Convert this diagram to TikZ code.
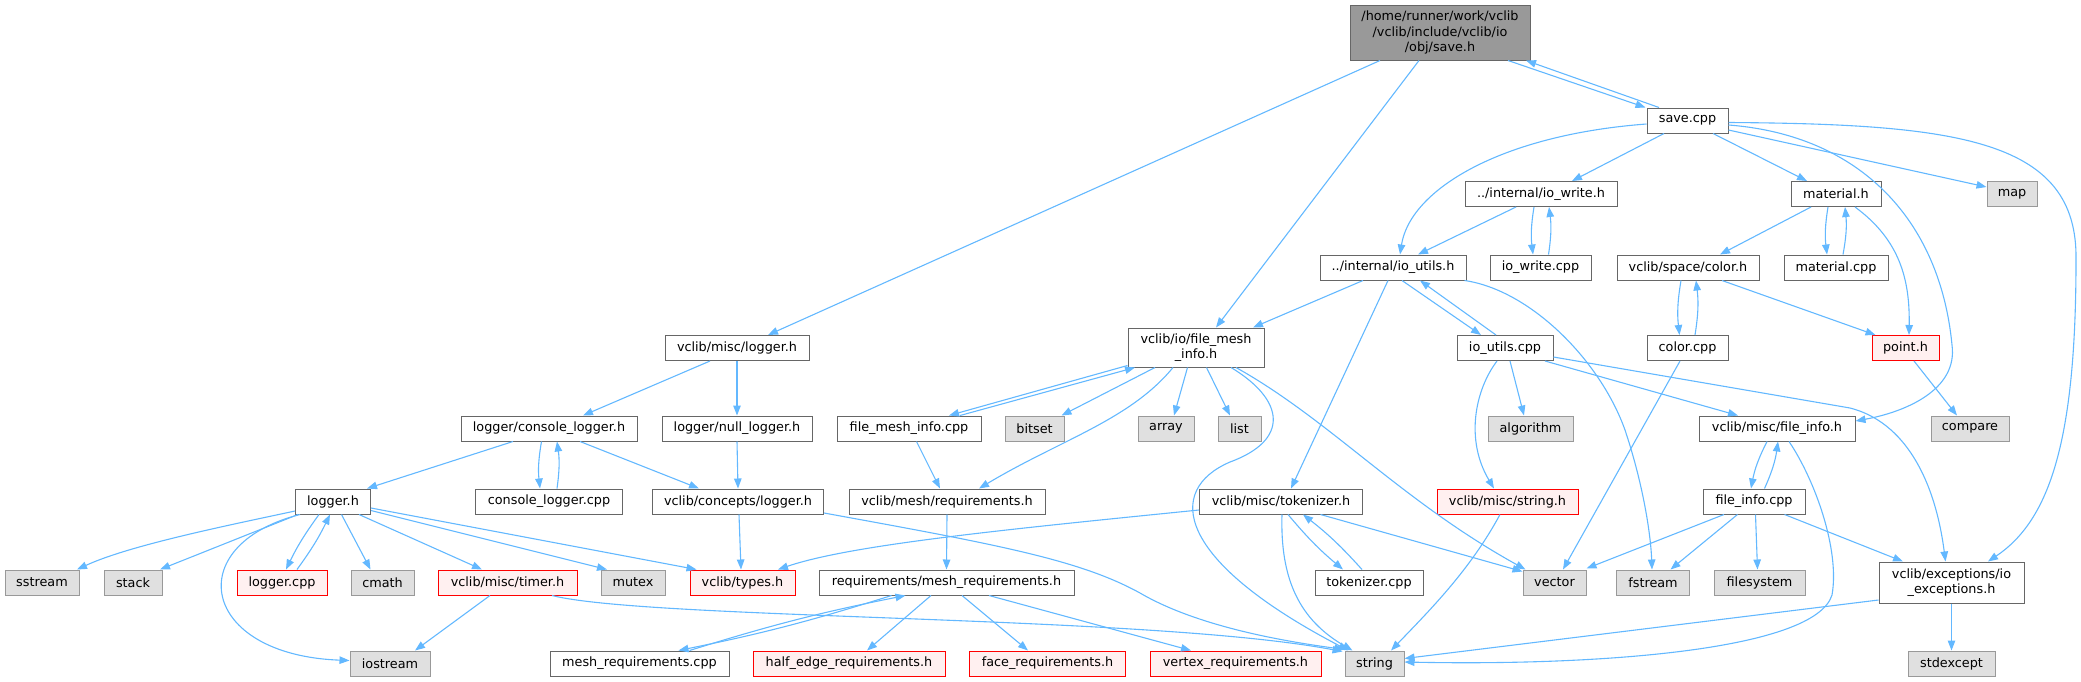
\documentclass[tikz,border=0pt]{standalone}
\usepackage{fontspec}
\setmainfont{DejaVu Sans}
\usetikzlibrary{arrows.meta,calc}
\definecolor{edgec}{HTML}{63B8FF}
\definecolor{bordc}{HTML}{666666}
\definecolor{mainf}{HTML}{999999}
\definecolor{sysf}{HTML}{E0E0E0}
\definecolor{sysb}{HTML}{999999}
\definecolor{redf}{HTML}{FFF0F0}
\definecolor{redb}{HTML}{FF0000}
\newcommand{\dfnt}{\fontsize{12.8}{15.4}\selectfont}
\tikzset{
  nd/.style={draw=bordc, fill=white, line width=1pt, minimum height=25pt,
             inner sep=0pt, font=\dfnt, text=black, align=center},
  sysnd/.style={nd, draw=sysb, fill=sysf},
  rednd/.style={nd, draw=redb, fill=redf},
  mainnd/.style={nd, fill=mainf},
  dep/.style={draw=edgec, line width=1.1pt, -{Triangle[length=10pt,width=7.5pt]}},
}
\begin{document}
\begin{tikzpicture}[x=1pt,y=-1pt]
\useasboundingbox (0,0) rectangle (2081,681);
% ---------- nodes ----------
\node[mainnd, minimum width=180pt, minimum height=55pt] (main) at (1440,32.5) {/home/runner/work/vclib\\/vclib/include/vclib/io\\/obj/save.h};
\node[nd, minimum width=81pt] (savecpp) at (1687.5,120.5) {save.cpp};
\node[nd, minimum width=152pt] (iowriteh) at (1541,194) {../internal/io\_write.h};
\node[nd, minimum width=90pt] (materialh) at (1836,194) {material.h};
\node[sysnd, minimum width=50pt] (map) at (2012,194) {map};
\node[nd, minimum width=146pt] (ioutilsh) at (1393,267.5) {../internal/io\_utils.h};
\node[nd, minimum width=101pt] (iowritecpp) at (1540.5,267.5) {io\_write.cpp};
\node[nd, minimum width=142pt] (colorh) at (1688,267.5) {vclib/space/color.h};
\node[nd, minimum width=104pt] (materialcpp) at (1836,267.5) {material.cpp};
\node[nd, minimum width=144pt] (misclogger) at (737,348) {vclib/misc/logger.h};
\node[nd, minimum width=136pt, minimum height=39pt] (fmih) at (1196,347.5) {vclib/io/file\_mesh\\\_info.h};
\node[nd, minimum width=96pt] (ioutilscpp) at (1505,348) {io\_utils.cpp};
\node[nd, minimum width=81pt] (colorcpp) at (1687.5,348) {color.cpp};
\node[rednd, minimum width=67pt] (pointh) at (1905.5,348) {point.h};
\node[nd, minimum width=176pt] (consolelogger) at (549,428.5) {logger/console\_logger.h};
\node[nd, minimum width=150pt] (nulllogger) at (737,428.5) {logger/null\_logger.h};
\node[nd, minimum width=144pt] (fmicpp) at (909,428.5) {file\_mesh\_info.cpp};
\node[sysnd, minimum width=59pt] (bitset) at (1034.5,428.5) {bitset};
\node[sysnd, minimum width=56pt] (array) at (1166,428.5) {array};
\node[sysnd, minimum width=43pt] (list) at (1239.5,428.5) {list};
\node[sysnd, minimum width=85pt] (algorithm) at (1530.5,428.5) {algorithm};
\node[nd, minimum width=156pt] (fileinfoh) at (1777,428.5) {vclib/misc/file\_info.h};
\node[sysnd, minimum width=78pt] (compare) at (1970,428.5) {compare};
\node[nd, minimum width=75pt] (loggerh) at (333,501.5) {logger.h};
\node[nd, minimum width=147pt] (consolecpp) at (549,501.5) {console\_logger.cpp};
\node[nd, minimum width=171pt] (conceptslogger) at (738,501.5) {vclib/concepts/logger.h};
\node[nd, minimum width=196pt] (meshreq) at (947,501.5) {vclib/mesh/requirements.h};
\node[nd, minimum width=163pt] (tokenizerh) at (1281,501.5) {vclib/misc/tokenizer.h};
\node[rednd, minimum width=141pt] (stringh) at (1507.5,501.5) {vclib/misc/string.h};
\node[nd, minimum width=102pt] (fileinfocpp) at (1754,501.5) {file\_info.cpp};
\node[sysnd, minimum width=74pt] (sstream) at (42,582.5) {sstream};
\node[sysnd, minimum width=58pt] (stack) at (133,582.5) {stack};
\node[rednd, minimum width=90pt] (loggercpp) at (282,582.5) {logger.cpp};
\node[sysnd, minimum width=63pt] (cmath) at (382.5,582.5) {cmath};
\node[rednd, minimum width=139pt] (timerh) at (507.5,582.5) {vclib/misc/timer.h};
\node[sysnd, minimum width=64pt] (mutex) at (633,582.5) {mutex};
\node[rednd, minimum width=105pt] (typesh) at (742.5,582.5) {vclib/types.h};
\node[nd, minimum width=255pt] (meshreqh) at (946.5,582.5) {requirements/mesh\_requirements.h};
\node[nd, minimum width=108pt] (tokenizercpp) at (1369,582.5) {tokenizer.cpp};
\node[sysnd, minimum width=63pt] (vector) at (1554.5,582.5) {vector};
\node[sysnd, minimum width=73pt] (fstream) at (1653,582.5) {fstream};
\node[sysnd, minimum width=91pt] (filesystem) at (1759.5,582.5) {filesystem};
\node[nd, minimum width=145pt, minimum height=41pt] (ioexc) at (1951.5,582.5) {vclib/exceptions/io\\\_exceptions.h};
\node[sysnd, minimum width=80pt] (iostream) at (390,663.5) {iostream};
\node[nd, minimum width=179pt] (meshreqcpp) at (639.5,663.5) {mesh\_requirements.cpp};
\node[rednd, minimum width=192pt] (halfedge) at (849,663.5) {half\_edge\_requirements.h};
\node[rednd, minimum width=156pt] (facereq) at (1047.5,663.5) {face\_requirements.h};
\node[rednd, minimum width=171pt] (vertexreq) at (1235.5,663.5) {vertex\_requirements.h};
\node[sysnd, minimum width=59pt] (string) at (1374.5,663.5) {string};
\node[sysnd, minimum width=87pt] (stdexcept) at (1951.5,663.5) {stdexcept};
% ---------- edges ----------
% save.h
\draw[dep] ([xshift=-60pt]main.south) -- ([xshift=31pt]misclogger.north);
\draw[dep] ([xshift=-21pt]main.south) -- ([xshift=20pt]fmih.north);
\draw[dep] ([xshift=68pt]main.south) -- ([xshift=-42pt]savecpp.north);
\draw[dep] ([xshift=-28.5pt]savecpp.north) -- ([xshift=86pt]main.south);
% save.cpp
\draw[dep] ([yshift=-3.5pt]savecpp.west) .. controls (1500,135) and (1410,190) .. ([xshift=7pt]ioutilsh.north);
\draw[dep] ([xshift=-23.5pt]savecpp.south) -- ([xshift=31pt]iowriteh.north);
\draw[dep] ([xshift=25.5pt]savecpp.south) -- ([xshift=-29pt]materialh.north);
\draw[dep] ([yshift=-9.5pt]savecpp.east) -- ([yshift=7pt]map.west);
\draw[dep] ([yshift=-4.5pt]savecpp.east) .. controls (1860,135) and (1940,220) .. (1952,345) .. controls (1958,390) and (1905,412) .. ([yshift=7.5pt]fileinfoh.east);
\draw[dep] ([yshift=-2pt]savecpp.east) .. controls (1960,124) and (2078,140) .. (2076,260) .. controls (2076,440) and (2050,520) .. ([xshift=36.5pt]ioexc.north);
% io_write.h
\draw[dep] ([xshift=-25pt]iowriteh.south) -- ([xshift=25pt]ioutilsh.north);
\draw[dep] ([xshift=-7pt]iowriteh.south) to[bend right=8] ([xshift=-7.5pt]iowritecpp.north);
\draw[dep] ([xshift=8pt]iowritecpp.north) to[bend right=8] ([xshift=8pt]iowriteh.south);
% material.h
\draw[dep] ([xshift=-25pt]materialh.south) -- ([xshift=32pt]colorh.north);
\draw[dep] ([xshift=-8pt]materialh.south) to[bend right=8] ([xshift=-9pt]materialcpp.north);
\draw[dep] ([xshift=7pt]materialcpp.north) to[bend right=8] ([xshift=9pt]materialh.south);
\draw[dep] ([xshift=19pt]materialh.south) .. controls (1900,240) and (1910,280) .. ([xshift=3.5pt]pointh.north);
% io_utils.h
\draw[dep] ([xshift=-30pt]ioutilsh.south) -- ([xshift=57pt]fmih.north);
\draw[dep] ([xshift=9pt]ioutilsh.south) -- ([xshift=-24pt]ioutilscpp.north);
\draw[dep] ([xshift=-9pt]ioutilscpp.north) -- ([xshift=27pt]ioutilsh.south);
\draw[dep] ([xshift=-5pt]ioutilsh.south) -- ([xshift=10pt]tokenizerh.north);
\draw[dep] ([xshift=-2pt]ioutilsh.south east) .. controls (1530,290) and (1600,360) .. (1625,430) .. controls (1645,490) and (1651,540) .. ([xshift=-1pt]fstream.north);
% color.h / color.cpp / point.h
\draw[dep] ([xshift=-7pt]colorh.south) to[bend right=8] ([xshift=-8pt]colorcpp.north);
\draw[dep] ([xshift=7.5pt]colorcpp.north) to[bend right=8] ([xshift=8pt]colorh.south);
\draw[dep] ([xshift=34pt]colorh.south) -- ([xshift=-30pt]pointh.north);
\draw[dep] ([xshift=-7.5pt]colorcpp.south) -- ([xshift=8.5pt]vector.north);
\draw[dep] ([xshift=8.5pt]pointh.south) -- ([xshift=-13pt]compare.north);
% io_utils.cpp
\draw[dep] ([xshift=5pt]ioutilscpp.south) -- ([xshift=-6.5pt]algorithm.north);
\draw[dep] ([xshift=-8pt]ioutilscpp.south) .. controls (1475,390) and (1465,440) .. ([xshift=-13.5pt]stringh.north);
\draw[dep] ([xshift=40pt]ioutilscpp.south) -- ([xshift=-39pt]fileinfoh.north);
\draw[dep] ([yshift=-9pt]ioutilscpp.east) -- (1850,408) .. controls (1905,422) and (1935,480) .. ([xshift=-6pt]ioexc.north);
% file_info.h / file_info.cpp
\draw[dep] ([xshift=-10pt]fileinfoh.south) to[bend right=8] ([xshift=-3pt]fileinfocpp.north);
\draw[dep] ([xshift=10.5pt]fileinfocpp.north) to[bend right=8] ([xshift=1pt]fileinfoh.south);
\draw[dep] ([xshift=12pt]fileinfoh.south) .. controls (1815,480) and (1840,550) .. (1832,595) .. controls (1815,650) and (1600,666) .. ([yshift=1.5pt]string.east);
\draw[dep] ([xshift=-30pt]fileinfocpp.south) -- ([yshift=1pt]vector.north east);
\draw[dep] ([xshift=-16.5pt]fileinfocpp.south) -- ([xshift=17.5pt]fstream.north);
\draw[dep] ([xshift=1.5pt]fileinfocpp.south) -- ([xshift=-2pt]filesystem.north);
\draw[dep] ([xshift=30.5pt]fileinfocpp.south) -- ([xshift=-48.5pt]ioexc.north);
% io_exceptions.h
\draw[dep] ([yshift=-17.5pt]ioexc.west) -- ([yshift=5pt]string.east);
\draw[dep] (ioexc.south) -- (stdexcept.north);
% string.h
\draw[dep] ([xshift=-7.5pt]stringh.south) .. controls (1470,570) and (1430,610) .. ([xshift=16.5pt]string.north);
% file_mesh_info.h
\draw[dep] ([yshift=2pt]fmih.south west) -- ([xshift=40pt]fmicpp.north);
\draw[dep] ([xshift=51pt]fmicpp.north) -- ([xshift=-61pt]fmih.south);
\draw[dep] ([xshift=-41pt]fmih.south) -- ([xshift=27pt]bitset.north);
\draw[dep] ([xshift=-8.5pt]fmih.south) -- ([xshift=8pt]array.north);
\draw[dep] ([xshift=10.5pt]fmih.south) -- ([xshift=-9.5pt]list.north);
\draw[dep] ([xshift=-23pt]fmih.south) .. controls (1130,420) and (1060,440) .. ([xshift=32pt]meshreq.north);
\draw[dep] ([xshift=35pt]fmih.south) .. controls (1285,400) and (1290,440) .. (1230,462) .. controls (1165,490) and (1175,560) .. ([xshift=-26pt]string.north);
\draw[dep] ([xshift=40pt]fmih.south) .. controls (1330,420) and (1400,500) .. ([xshift=3pt]vector.north west);
\draw[dep] ([xshift=7.5pt]fmicpp.south) -- ([xshift=-7pt]meshreq.north);
% tokenizer.h
\draw[dep] ([yshift=-8.5pt]tokenizerh.west) .. controls (1000,530) and (850,545) .. ([xshift=35.5pt]typesh.north);
\draw[dep] ([xshift=1pt]tokenizerh.south) .. controls (1280,580) and (1300,620) .. ([xshift=-22pt]string.north);
\draw[dep] ([xshift=7pt]tokenizerh.south) to[bend right=5] ([xshift=-26pt]tokenizercpp.north);
\draw[dep] ([xshift=-7pt]tokenizercpp.north) to[bend right=5] ([xshift=22pt]tokenizerh.south);
\draw[dep] ([xshift=39.5pt]tokenizerh.south) -- ([yshift=-2pt]vector.north west);
% requirements
\draw[dep] (meshreq.south) -- (meshreqh.north);
\draw[dep] ([xshift=-55pt]meshreqh.south) to[bend left=3] ([xshift=39pt]meshreqcpp.north);
\draw[dep] ([xshift=50pt]meshreqcpp.north) to[bend left=3] ([xshift=-41pt]meshreqh.south);
\draw[dep] ([xshift=-15.5pt]meshreqh.south) -- ([xshift=18pt]halfedge.north);
\draw[dep] ([xshift=15.5pt]meshreqh.south) -- ([xshift=-19.5pt]facereq.north);
\draw[dep] ([xshift=42.5pt]meshreqh.south) -- ([xshift=-44.5pt]vertexreq.north);
% loggers
\draw[dep] ([xshift=-27pt]misclogger.south) -- ([xshift=34pt]consolelogger.north);
\draw[dep] (misclogger.south) -- (nulllogger.north);
\draw[dep] ([xshift=-36pt]consolelogger.south) -- ([xshift=34pt]loggerh.north);
\draw[dep] ([xshift=-7.5pt]consolelogger.south) to[bend right=8] ([xshift=-9pt]consolecpp.north);
\draw[dep] ([xshift=8pt]consolecpp.north) to[bend right=8] ([xshift=8pt]consolelogger.south);
\draw[dep] ([xshift=31pt]consolelogger.south) -- ([xshift=-39pt]conceptslogger.north);
\draw[dep] (nulllogger.south) -- (conceptslogger.north);
\draw[dep] ([xshift=1pt]conceptslogger.south) -- ([xshift=-1.5pt]typesh.north);
\draw[dep] ([yshift=-11.5pt]conceptslogger.east) .. controls (1000,545) and (1080,560) .. (1140,593) .. controls (1200,628) and (1290,642) .. ([yshift=1pt]string.north west);
% logger.h
\draw[dep] ([yshift=-9.5pt]loggerh.west) .. controls (230,525) and (130,545) .. ([xshift=35pt]sstream.north);
\draw[dep] ([xshift=-35pt]loggerh.south) -- ([xshift=27pt]stack.north);
\draw[dep] ([xshift=-14pt]loggerh.south) to[bend right=5] ([xshift=4pt]loggercpp.north);
\draw[dep] ([xshift=15pt]loggercpp.north) to[bend right=5] ([xshift=-3pt]loggerh.south);
\draw[dep] ([xshift=8.5pt]loggerh.south) -- ([xshift=-12pt]cmath.north);
\draw[dep] ([xshift=26pt]loggerh.south) -- ([xshift=-25.5pt]timerh.north);
\draw[dep] ([yshift=-9pt]loggerh.east) -- ([xshift=-26pt]mutex.north);
\draw[dep] ([yshift=-6.5pt]loggerh.east) -- ([xshift=-46pt]typesh.north);
\draw[dep] ([xshift=-33pt]loggerh.south) .. controls (180,545) and (200,655) .. ([yshift=3pt]iostream.west);
% timer.h
\draw[dep] ([xshift=-17.5pt]timerh.south) -- ([xshift=25pt]iostream.north);
\draw[dep] ([xshift=44.5pt]timerh.south) .. controls (650,620) and (1150,615) .. ([xshift=-2pt,yshift=-1pt]string.north west);
\end{tikzpicture}
\end{document}
